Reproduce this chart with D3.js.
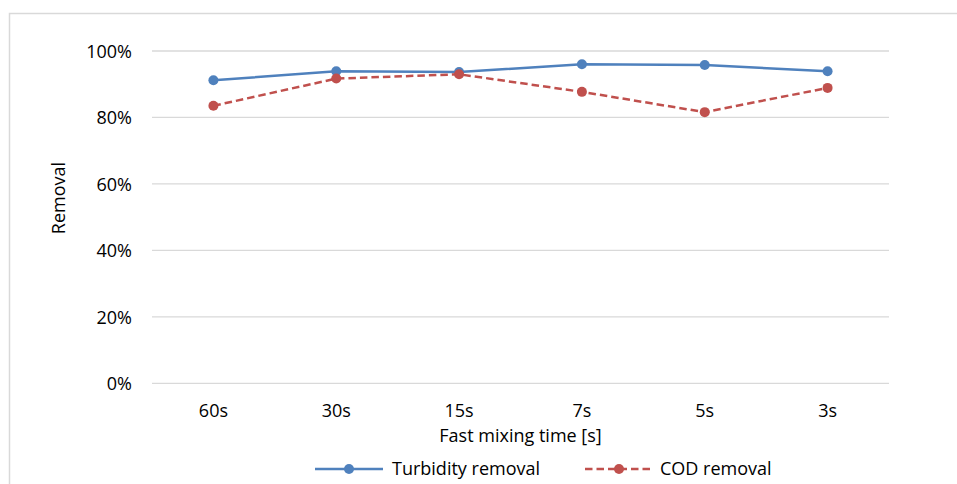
<!DOCTYPE html>
<html>
<head>
<meta charset="utf-8">
<script src="https://cdn.jsdelivr.net/npm/d3@7"></script>
<style>
  html, body { margin: 0; padding: 0; background: #fff; }
  svg { display: block; }
  text { font-family: "Open Sans", "Noto Sans", sans-serif; fill: #000; }
</style>
</head>
<body>
<svg id="chart" width="957" height="484"></svg>
<script>
// Fast mixing time categories and removal efficiencies (fraction)
const categories = ["60s", "30s", "15s", "7s", "5s", "3s"];
const turbidityRemoval = [0.912, 0.939, 0.937, 0.960, 0.958, 0.939];
const codRemoval = [0.835, 0.917, 0.930, 0.877, 0.816, 0.889];
const yTicks = [0, 0.2, 0.4, 0.6, 0.8, 1.0];
const seriesNames = ["Turbidity removal", "COD removal"];

const svg = d3.select("#chart");
const W = 957, H = 484;
const FS = 18;

// chart frame (only top and left edges visible)
svg.append("path")
  .attr("d", `M9.5,${H} V13.5 H${W}`)
  .attr("fill", "none")
  .attr("stroke", "#d9d9d9")
  .attr("stroke-width", 1.5);

const plot = { left: 152, right: 889, top: 51, bottom: 383.3 };

const x = d3.scaleBand()
  .domain(categories)
  .range([plot.left, plot.right])
  .paddingInner(0).paddingOuter(0);
const y = d3.scaleLinear()
  .domain([0, 1])
  .range([plot.bottom, plot.top]);

// horizontal gridlines
svg.append("g")
  .selectAll("line")
  .data(yTicks)
  .join("line")
  .attr("x1", plot.left).attr("x2", plot.right)
  .attr("y1", d => y(d)).attr("y2", d => y(d))
  .attr("stroke", "#d9d9d9")
  .attr("stroke-width", 1.3);

// y axis tick labels
const yAxis = d3.axisLeft(y).tickValues(yTicks).tickFormat(d3.format(".0%")).tickSize(0).tickPadding(0);
const gy = svg.append("g").attr("transform", `translate(132,0)`).call(yAxis);
gy.select(".domain").remove();
gy.selectAll("text").attr("font-size", FS).attr("font-family", "Open Sans").attr("fill", "#000").attr("dy", "0.35em");

// x axis tick labels
const xAxis = d3.axisBottom(x).tickSize(0).tickPadding(0);
const gx = svg.append("g").attr("transform", `translate(0,411)`).call(xAxis);
gx.select(".domain").remove();
gx.selectAll("text").attr("font-size", FS).attr("font-family", "Open Sans").attr("fill", "#000").attr("dy", "0.35em");

// axis titles
svg.append("text")
  .attr("x", (plot.left + plot.right) / 2)
  .attr("y", 436)
  .attr("dy", "0.35em")
  .attr("text-anchor", "middle")
  .attr("font-size", FS)
  .text("Fast mixing time [s]");

svg.append("text")
  .attr("transform", `translate(59,198) rotate(-90)`)
  .attr("dy", "0.35em")
  .attr("text-anchor", "middle")
  .attr("font-size", FS)
  .text("Removal");

const cx = d => x(d) + x.bandwidth() / 2;
const line = d3.line().x(d => cx(d.c)).y(d => y(d.v));

const series = [
  { name: seriesNames[0], values: turbidityRemoval, color: "#4f81bd", dash: null },
  { name: seriesNames[1], values: codRemoval, color: "#c0504d", dash: "7.5,4" }
];

series.forEach(s => {
  const pts = categories.map((c, i) => ({ c, v: s.values[i] }));
  svg.append("path")
    .datum(pts)
    .attr("d", line)
    .attr("fill", "none")
    .attr("stroke", s.color)
    .attr("stroke-width", 2.5)
    .attr("stroke-dasharray", s.dash);
  svg.append("g")
    .selectAll("circle")
    .data(pts)
    .join("circle")
    .attr("cx", d => cx(d.c))
    .attr("cy", d => y(d.v))
    .attr("r", 5)
    .attr("fill", s.color);
});

// legend
const legendItems = [
  { x0: 315, x1: 383, tx: 392 },
  { x0: 585, x1: 653, tx: 660 }
];
const ly = 469;
series.forEach((s, i) => {
  const L = legendItems[i];
  const g = svg.append("g");
  g.append("line")
    .attr("x1", L.x0).attr("x2", L.x1)
    .attr("y1", ly).attr("y2", ly)
    .attr("stroke", s.color)
    .attr("stroke-width", 2.5)
    .attr("stroke-dasharray", s.dash);
  g.append("circle")
    .attr("cx", (L.x0 + L.x1) / 2).attr("cy", ly).attr("r", 5)
    .attr("fill", s.color);
  g.append("text")
    .attr("x", L.tx).attr("y", ly)
    .attr("dy", "0.35em")
    .attr("font-size", FS)
    .text(s.name);
});
</script>
</body>
</html>
